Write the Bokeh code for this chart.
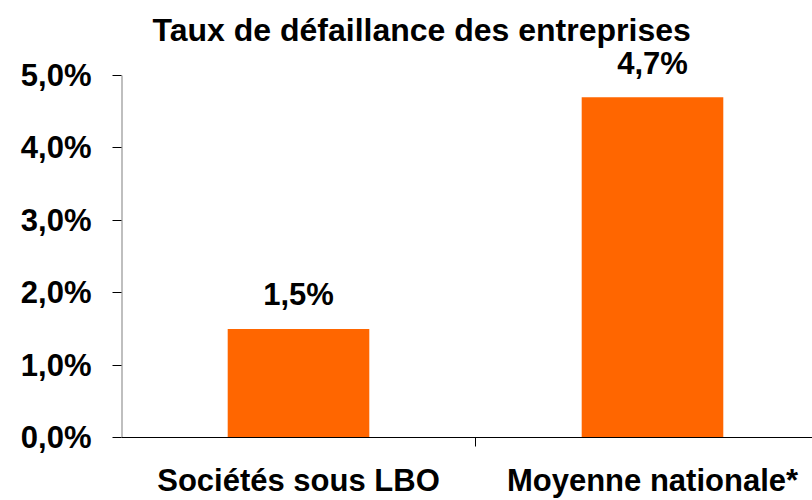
from bokeh.plotting import figure
from bokeh.models import Range1d, FixedTicker
from bokeh.core.properties import value
from bokeh.embed import file_html
from bokeh.resources import INLINE

title = "Taux de défaillance des entreprises"
categories = ["Sociétés sous LBO", "Moyenne nationale*"]
rates = [0.015, 0.047]
y_ticks = [0.0, 0.01, 0.02, 0.03, 0.04, 0.05]
y_tick_labels = ["0,0%", "1,0%", "2,0%", "3,0%", "4,0%", "5,0%"]

FONT = "Liberation Sans"
ORANGE = "#FF6600"

centers = [i + 0.5 for i in range(len(categories))]
labels = [("%.1f%%" % (v * 100)).replace(".", ",") for v in rates]

p = figure(width=812, height=500, output_backend="svg", toolbar_location=None,
           x_range=Range1d(0, 1.952), y_range=Range1d(0, 0.05345),
           min_border_left=121, min_border_right=0, min_border_top=50, min_border_bottom=63)
p.outline_line_color = None
p.xgrid.grid_line_color = None
p.ygrid.grid_line_color = None
p.background_fill_color = "white"
p.border_fill_color = "white"

p.title.text = title
p.title.align = "left"
p.title.offset = 31
p.title.standoff = 5
p.title.text_font = FONT
p.title.text_font_style = "bold"
p.title.text_font_size = "32px"
p.title.text_color = "black"

# y axis line (gray), only up to the top tick
p.segment(x0=[0], y0=[min(y_ticks)], x1=[0], y1=[max(y_ticks)], line_color="#808080", line_width=2)

p.vbar(x=centers, top=rates, width=0.4, bottom=0, fill_color=ORANGE, line_color=None)
p.text(x=centers, y=rates, text=labels, text_align="center", text_baseline="alphabetic",
       y_offset=-34, text_font=value(FONT), text_font_style="bold",
       text_font_size="31px", text_color="black")

# y axis
yax = p.yaxis[0]
yax.ticker = FixedTicker(ticks=y_ticks, minor_ticks=[])
yax.major_label_overrides = {t: l for t, l in zip(y_ticks, y_tick_labels)}
yax.axis_line_color = None
yax.major_tick_line_color = "black"
yax.major_tick_in = 0
yax.major_tick_out = 9
yax.minor_tick_line_color = None
yax.major_label_standoff = 21
yax.major_label_text_font = FONT
yax.major_label_text_font_style = "bold"
yax.major_label_text_font_size = "31px"
yax.major_label_text_color = "black"

# x axis
xax = p.xaxis[0]
xax.ticker = FixedTicker(ticks=centers, minor_ticks=list(range(1, len(categories) + 1)))
xax.major_label_overrides = {c: n for c, n in zip(centers, categories)}
xax.axis_line_color = "black"
xax.axis_line_width = 1
xax.major_tick_line_color = None
xax.minor_tick_line_color = "black"
xax.minor_tick_in = 0
xax.minor_tick_out = 9
xax.major_label_standoff = 16
xax.major_label_text_font = FONT
xax.major_label_text_font_style = "bold"
xax.major_label_text_font_size = "31px"
xax.major_label_text_color = "black"

open("out.html", "w").write(file_html(p, INLINE))
